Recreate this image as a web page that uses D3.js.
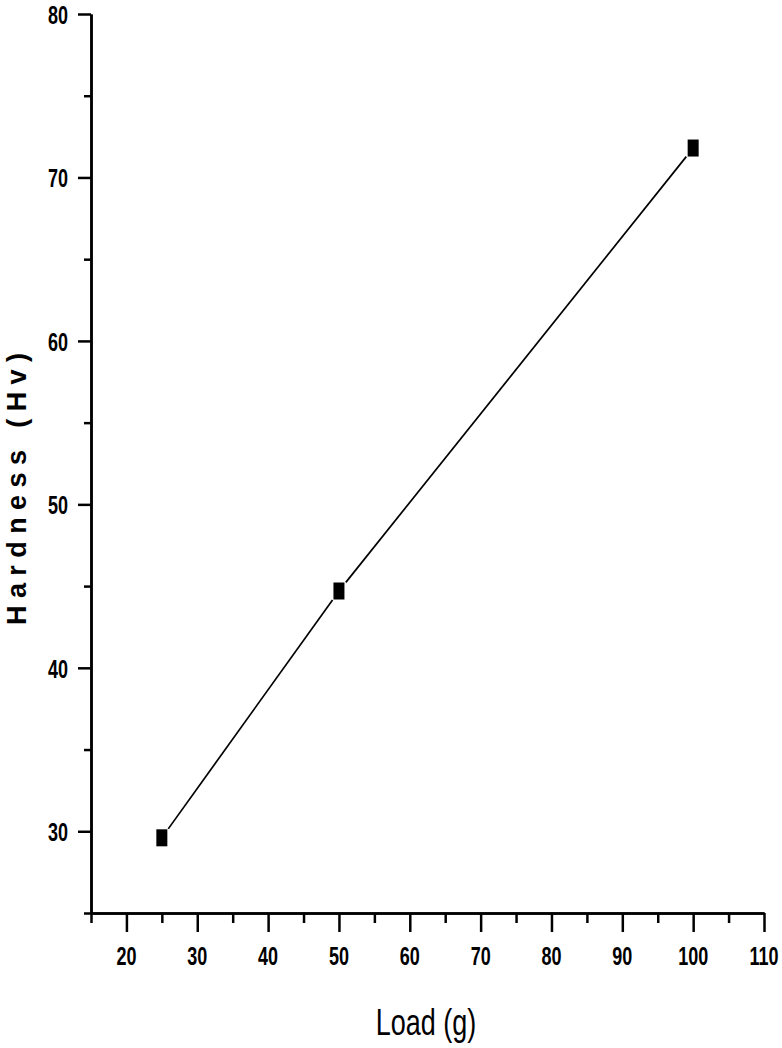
<!DOCTYPE html>
<html lang="en">
<head>
<meta charset="UTF-8">
<title>Hardness vs Load</title>
<script src="https://d3js.org/d3.v7.min.js"></script>
<style>
    body { margin: 0; background: #fff; }
    svg { display: block; }
    .axis path, .axis line { stroke: #000; stroke-width: 2.5px; }
    .lbl { font-family: "Liberation Sans", Arial, sans-serif; fill: #000; }
</style>
</head>
<body>
<svg id="chart" width="782" height="1048"></svg>
<script>
// data
const loads = [25, 50, 100];
const hardness = [29.6, 44.7, 71.8];
const xTicks = [20, 30, 40, 50, 60, 70, 80, 90, 100, 110];
const xMinor = [15, 25, 35, 45, 55, 65, 75, 85, 95, 105];
const yTicks = [30, 40, 50, 60, 70, 80];
const yMinor = [25, 35, 45, 55, 65, 75];

const svg = d3.select("#chart");

const x = d3.scaleLinear().domain([15, 110]).range([91, 764]);
const y = d3.scaleLinear().domain([25, 80]).range([913, 14]);

// minor ticks first, then major ticks with the axis line
svg.append("g").attr("class", "axis")
    .attr("transform", "translate(0,913)")
    .call(d3.axisBottom(x).tickValues(xMinor).tickSize(10).tickFormat("").tickSizeOuter(0));
svg.append("g").attr("class", "axis")
    .attr("transform", "translate(0,913)")
    .call(d3.axisBottom(x).tickValues(xTicks).tickSize(19).tickFormat("").tickSizeOuter(0));
svg.append("g").attr("class", "axis")
    .attr("transform", "translate(91,0)")
    .call(d3.axisLeft(y).tickValues(yMinor).tickSize(7).tickFormat("").tickSizeOuter(0));
svg.append("g").attr("class", "axis")
    .attr("transform", "translate(91,0)")
    .call(d3.axisLeft(y).tickValues(yTicks).tickSize(13).tickFormat("").tickSizeOuter(0));

// tick labels (the picture is stretched vertically)
svg.append("g").selectAll("text")
    .data(xTicks).join("text")
    .attr("class", "lbl")
    .attr("transform", d => `translate(${x(d)},965) scale(1,1.4)`)
    .attr("text-anchor", "middle")
    .style("font-size", "18px")
    .style("font-weight", "bold")
    .text(d => d);

svg.append("g").selectAll("text")
    .data(yTicks).join("text")
    .attr("class", "lbl")
    .attr("transform", d => `translate(68,${y(d) + 10}) scale(1,1.4)`)
    .attr("text-anchor", "end")
    .style("font-size", "18px")
    .style("font-weight", "bold")
    .text(d => d);

// connecting line, drawn with a gap near each symbol
const gap = 11;
const pts = loads.map((l, i) => [x(l), y(hardness[i])]);
const segs = d3.pairs(pts).map(([a, b]) => {
    const dx = b[0] - a[0], dy = b[1] - a[1];
    const len = Math.hypot(dx, dy);
    const ux = dx / len, uy = dy / len;
    return [a[0] + ux * gap, a[1] + uy * gap, b[0] - ux * gap, b[1] - uy * gap];
});
svg.append("g").selectAll("line")
    .data(segs).join("line")
    .attr("x1", d => d[0]).attr("y1", d => d[1])
    .attr("x2", d => d[2]).attr("y2", d => d[3])
    .attr("stroke", "#000")
    .attr("stroke-width", 1.7);

// square symbols
svg.append("g").selectAll("rect")
    .data(loads).join("rect")
    .attr("x", d => x(d) - 5.5)
    .attr("y", (d, i) => y(hardness[i]) - 8.5)
    .attr("width", 11)
    .attr("height", 17)
    .attr("fill", "#000");

// axis titles
svg.append("text")
    .attr("class", "lbl")
    .attr("transform", "translate(426,1035) scale(1,1.4)")
    .attr("text-anchor", "middle")
    .style("font-size", "27px")
    .text("Load (g)");

svg.append("text")
    .attr("class", "lbl")
    .attr("transform", "translate(26,489) rotate(-90)")
    .attr("text-anchor", "middle")
    .attr("textLength", 272)
    .attr("lengthAdjust", "spacing")
    .style("font-size", "27px")
    .style("font-weight", "bold")
    .text("Hardness (Hv)");
</script>
</body>
</html>
